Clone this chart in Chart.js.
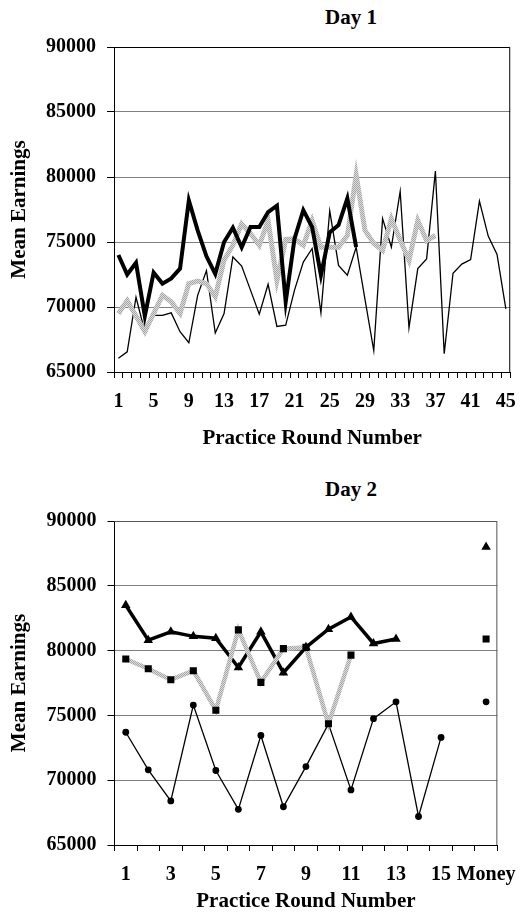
<!DOCTYPE html>
<html>
<head>
<meta charset="utf-8">
<script src="https://cdn.jsdelivr.net/npm/chart.js@4.4.1/dist/chart.umd.min.js"></script>
<style>
html,body{margin:0;padding:0;background:#fff;width:528px;height:922px;overflow:hidden;}
.wrap{position:absolute;left:0;width:528px;}
.ttl{position:absolute;font-family:"Liberation Serif","Times New Roman",serif;font-weight:bold;font-size:21px;line-height:24px;color:#000;width:200px;text-align:center;}
</style>
</head>
<body>
<div class="ttl" style="left:251px;top:5px;">Day 1</div>
<div class="ttl" style="left:251px;top:477px;">Day 2</div>
<div class="wrap" style="top:0;height:460px;"><canvas id="c1" width="528" height="460"></canvas></div>
<div class="wrap" style="top:460px;height:462px;"><canvas id="c2" width="528" height="462"></canvas></div>
<script>
// ---------- Day 1 ----------
const day1Rounds = ["1","2","3","4","5","6","7","8","9","10","11","12","13","14","15","16","17","18","19","20","21","22","23","24","25","26","27","28","29","30","31","32","33","34","35","36","37","38","39","40","41","42","43","44","45"];
const day1Thick = [74000,72500,73400,69300,72650,71800,72200,72950,78200,75900,73900,72550,75000,76100,74600,76150,76150,77300,77800,70400,75250,77450,76150,72450,75750,76300,78350,74600];
const day1Gray = [69500,70500,69300,68100,69500,70900,70400,69500,71800,72000,71800,70800,73600,74750,76400,75650,74750,76650,72050,75200,75250,74750,76650,74600,74600,74600,75500,80150,75900,74900,74350,76800,75150,73600,76650,75100,75500];
const day1Thin = [66050,66550,70750,68100,69350,69350,69550,68100,67250,70900,72800,68000,69500,73850,73150,71300,69450,71750,68500,68600,71300,73450,74500,69550,77400,73200,72450,74600,70600,66650,76800,74600,78900,68400,72950,73700,80450,66400,72600,73300,73650,78150,75450,74050,69850];

// ---------- Day 2 ----------
const day2Rounds = ["1","2","3","4","5","6","7","8","9","10","11","12","13","14","15","16","Money"];
const day2Triangles = [83500,80800,81450,81100,80950,78700,81450,78300,80250,81650,82600,80550,80900,null,null,null,88000];
const day2Squares = [79350,78600,77750,78450,75400,81600,77550,80150,80250,74350,79650,null,null,null,null,null,80900];
const day2Circles = [73700,70800,68400,75800,70750,67750,73450,67950,71050,74350,69250,74750,76050,67200,73300,null,76050];

const yTicks = {min:65000, max:90000, step:5000};
const yTitle = "Mean Earnings";
const xTitle = "Practice Round Number";

const FF = '"Liberation Serif","Times New Roman",serif';

function grayPattern(){
  const c = document.createElement('canvas');
  c.width = 2; c.height = 2;
  const g = c.getContext('2d');
  g.fillStyle = '#dcdcdc'; g.fillRect(0,0,2,2);
  g.fillStyle = '#a6a6a6'; g.fillRect(0,0,1,1); g.fillRect(1,1,1,1);
  return g.createPattern(c,'repeat');
}

function frame(color){
  return {
    id:'frame',
    afterDatasetsDraw(chart){
      const a = chart.chartArea, ctx = chart.ctx;
      ctx.save();
      ctx.strokeStyle = color; ctx.lineWidth = 1;
      ctx.beginPath();
      ctx.moveTo(a.left, a.top+0.5); ctx.lineTo(a.right-0.5, a.top+0.5); ctx.lineTo(a.right-0.5, a.bottom);
      ctx.stroke();
      ctx.restore();
    }
  };
}

function yScale(width){
  return {
    type:'linear', min:yTicks.min, max:yTicks.max,
    afterFit(s){ s.width = width; },
    ticks:{stepSize:yTicks.step, padding:11, color:'#000', font:{family:FF,size:20,weight:'bold'}, callback:v=>String(v)},
    grid:{color:'#808080', lineWidth:1, tickColor:'#000', tickLength:7},
    border:{color:'#000', width:1},
    title:{display:true, text:yTitle, color:'#000', font:{family:FF,size:21,weight:'bold',lineHeight:1.2}, padding:{top:7,bottom:0}}
  };
}

function xScale(height, every, titlePad){
  return {
    type:'category', offset:true,
    afterFit(s){ s.height = height; },
    ticks:{autoSkip:false, maxRotation:0, minRotation:0, padding:12, color:'#000', font:{family:FF,size:20,weight:'bold'},
      callback:function(v,i){ return i % every === 0 ? this.getLabelForValue(v) : ''; }},
    grid:{offset:true, drawOnChartArea:false, drawTicks:true, tickLength:6, tickColor:'#000'},
    border:{color:'#000', width:1},
    title:{display:true, text:xTitle, color:'#000', font:{family:FF,size:21,weight:'bold',lineHeight:1.2}, padding:{top:0,bottom:titlePad}}
  };
}

const pat = grayPattern();

new Chart(document.getElementById('c1'), {
  type:'line',
  data:{
    labels:day1Rounds,
    datasets:[
      {data:day1Thick, borderColor:'#000', borderWidth:4, pointRadius:0, tension:0},
      {data:day1Gray, borderColor:pat, borderWidth:5, pointRadius:0, tension:0},
      {data:day1Thin, borderColor:'#000', borderWidth:1.3, pointRadius:0, tension:0}
    ]
  },
  options:{
    responsive:false, animation:false, events:[],
    layout:{padding:{top:47,right:14,bottom:0,left:0}},
    plugins:{legend:{display:false}, title:{display:false}, tooltip:{enabled:false}},
    scales:{x:xScale(88,4,9), y:yScale(114)}
  },
  plugins:[frame('#000')]
});

new Chart(document.getElementById('c2'), {
  type:'line',
  data:{
    labels:day2Rounds,
    datasets:[
      {data:day2Squares, borderColor:pat, borderWidth:4.5, pointStyle:'rect', pointRadius:5, pointBackgroundColor:'#000', pointBorderColor:'#000', pointBorderWidth:0, tension:0, spanGaps:false},
      {data:day2Triangles, borderColor:'#000', borderWidth:3.5, pointStyle:'triangle', pointRadius:5.5, pointBackgroundColor:'#000', pointBorderColor:'#000', pointBorderWidth:0, tension:0, spanGaps:false},
      {data:day2Circles, borderColor:'#000', borderWidth:1.3, pointStyle:'circle', pointRadius:3.4, pointBackgroundColor:'#000', pointBorderColor:'#000', pointBorderWidth:0, tension:0, spanGaps:false}
    ]
  },
  options:{
    responsive:false, animation:false, events:[],
    layout:{padding:{top:61,right:16,bottom:0,left:0}},
    plugins:{legend:{display:false}, title:{display:false}, tooltip:{enabled:false}},
    scales:{x:xScale(77,2,8), y:yScale(114.5)}
  },
  plugins:[frame('#555')]
});
</script>
</body>
</html>
